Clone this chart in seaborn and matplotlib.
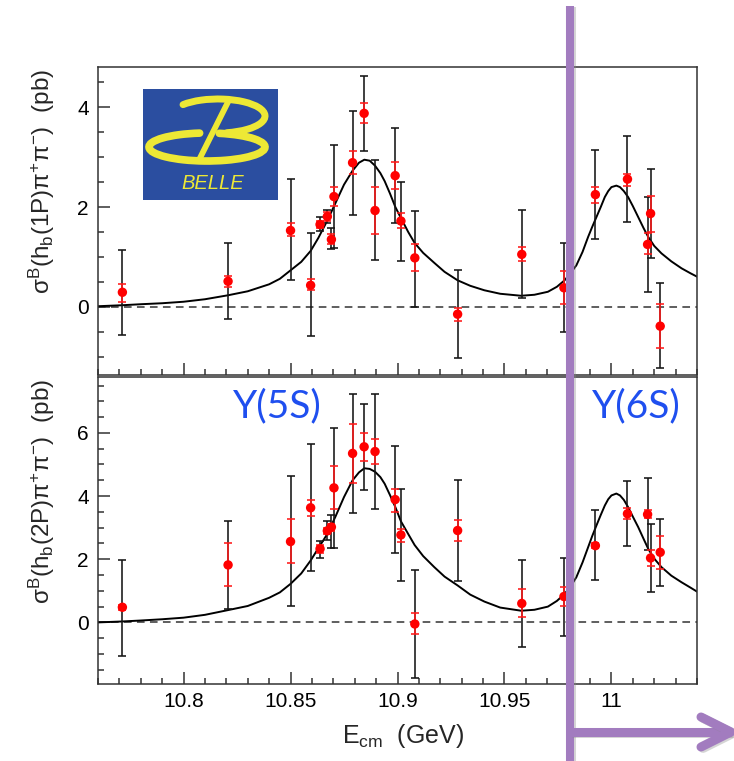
import numpy as np
import pandas as pd
import matplotlib
matplotlib.use("Agg")
import matplotlib.pyplot as plt
import seaborn as sns
from matplotlib.lines import Line2D
from matplotlib.patches import Arc
from matplotlib.ticker import FixedLocator, MultipleLocator
import matplotlib.patheffects as pe

# ---- scan energies (GeV) -------------------------------------------------
energy = [10.7714, 10.8208, 10.8500, 10.8594, 10.8638, 10.8672, 10.8691,
          10.8703, 10.8790, 10.8844, 10.8895, 10.8989, 10.9016, 10.9081,
          10.9281, 10.9581, 10.9778, 10.9925, 11.0075, 11.0169, 11.0183,
          11.0228]

# ---- h_b(1P) pi+ pi- cross section (pb) ----------------------------------
hb1_val = [0.29, 0.51, 1.53, 0.43, 1.65, 1.81, 1.35, 2.21, 2.89, 3.88, 1.93,
           2.63, 1.72, 0.98, -0.15, 1.05, 0.38, 2.25, 2.56, 1.25, 1.87, -0.39]
hb1_tot_lo = [-0.57, -0.25, 0.53, -0.59, 1.52, 1.67, 1.15, 1.17, 1.85, 3.12,
              0.93, 1.67, 0.92, 0.00, -1.03, 0.18, -0.51, 1.35, 1.69, 0.30,
              0.97, -1.22]
hb1_tot_hi = [1.13, 1.27, 2.57, 1.47, 1.80, 1.95, 1.57, 3.25, 3.92, 4.63, 2.95,
              3.59, 2.50, 1.93, 0.73, 1.95, 1.27, 3.15, 3.43, 2.21, 2.76, 0.47]
hb1_stat_lo = [0.10, 0.40, 1.41, 0.33, 1.58, 1.73, 1.25, 2.03, 2.67, 3.69,
               1.45, 2.37, 1.57, 0.71, -0.28, 0.92, 0.05, 2.09, 2.43, 1.05,
               1.49, -0.83]
hb1_stat_hi = [0.45, 0.61, 1.68, 0.55, 1.72, 1.90, 1.45, 2.40, 3.12, 4.08,
               2.41, 2.90, 1.88, 1.25, -0.03, 1.20, 0.71, 2.41, 2.67, 1.47,
               2.23, 0.05]

# ---- h_b(2P) pi+ pi- cross section (pb) ----------------------------------
hb2_val = [0.48, 1.82, 2.56, 3.63, 2.33, 2.90, 3.02, 4.26, 5.35, 5.56, 5.41,
           3.89, 2.77, -0.05, 2.91, 0.60, 0.82, 2.43, 3.44, 3.42, 2.04, 2.22]
hb2_tot_lo = [-1.06, 0.42, 0.51, 1.62, 2.04, 2.62, 2.35, 2.36, 3.46, 4.20,
              3.60, 2.19, 1.32, -1.75, 1.32, -0.77, -0.42, 1.35, 2.41, 2.28,
              0.95, 1.14]
hb2_tot_hi = [1.99, 3.22, 4.64, 5.64, 2.59, 3.20, 3.41, 6.17, 7.22, 6.93,
              7.23, 5.58, 4.21, 1.67, 4.52, 1.99, 2.04, 3.57, 4.48, 4.58,
              3.12, 3.26]
hb2_stat_lo = [0.40, 1.14, 1.87, 3.37, 2.20, 2.80, 2.90, 3.58, 4.42, 5.11,
               5.00, 3.49, 2.54, -0.37, 2.59, 0.18, 0.53, 2.36, 3.26, 3.30,
               1.80, 1.69]
hb2_stat_hi = [0.56, 2.53, 3.28, 3.89, 2.45, 3.00, 3.12, 4.94, 6.27, 6.00,
               5.80, 4.23, 2.96, 0.29, 3.23, 1.06, 1.13, 2.50, 3.62, 3.55,
               2.28, 2.73]

# ---- fitted line shapes --------------------------------------------------
fit_e = [10.760, 10.7714, 10.780, 10.790, 10.800, 10.810, 10.8208, 10.830,
         10.840, 10.845, 10.850, 10.855, 10.8594, 10.863, 10.8672, 10.871,
         10.875, 10.879, 10.882, 10.8845, 10.887, 10.8895, 10.892, 10.894,
         10.8965, 10.899, 10.9016, 10.905, 10.908, 10.912, 10.9172, 10.922,
         10.9281, 10.934, 10.9406, 10.948, 10.9578, 10.964, 10.9703, 10.9745,
         10.9781, 10.981, 10.9836, 10.9865, 10.9891, 10.991, 10.993, 10.995,
         10.9969, 10.9985, 11.0000, 11.0023, 11.0040, 11.0058, 11.0078,
         11.0100, 11.0125, 11.0150, 11.0172, 11.0200, 11.0234, 11.0280,
         11.0328, 11.0370, 11.0406]
fit1_y = [0.01, 0.03, 0.05, 0.07, 0.10, 0.15, 0.23, 0.31, 0.45, 0.56, 0.73,
          0.90, 1.12, 1.38, 1.73, 2.08, 2.45, 2.73, 2.89, 2.95, 2.93, 2.83,
          2.68, 2.52, 2.27, 2.00, 1.78, 1.50, 1.28, 1.08, 0.88, 0.70, 0.53,
          0.42, 0.33, 0.26, 0.22, 0.24, 0.30, 0.40, 0.53, 0.68, 0.83, 1.10,
          1.40, 1.60, 1.80, 2.00, 2.20, 2.32, 2.40, 2.43, 2.40, 2.32, 2.20,
          2.02, 1.80, 1.58, 1.40, 1.22, 1.07, 0.91, 0.77, 0.67, 0.59]
fit2_y = [0.00, 0.03, 0.06, 0.10, 0.15, 0.24, 0.39, 0.52, 0.78, 0.95, 1.22,
          1.55, 1.96, 2.35, 2.80, 3.35, 3.97, 4.50, 4.75, 4.88, 4.86, 4.77,
          4.60, 4.39, 4.03, 3.65, 3.20, 2.80, 2.45, 2.10, 1.75, 1.45, 1.17,
          0.88, 0.66, 0.47, 0.37, 0.40, 0.50, 0.68, 0.90, 1.15, 1.43, 1.90,
          2.38, 2.73, 3.07, 3.40, 3.70, 3.90, 4.02, 4.08, 4.02, 3.88, 3.65,
          3.35, 3.02, 2.65, 2.33, 2.02, 1.75, 1.48, 1.27, 1.10, 0.95]

x_ticks = [10.8, 10.85, 10.9, 10.95, 11.0]
x_tick_labels = ["10.8", "10.85", "10.9", "10.95", "11"]
y1_ticks = [0, 2, 4]
y2_ticks = [0, 2, 4, 6]

W, H = 734, 761
sns.set_theme(style="ticks")
plt.rcParams["font.family"] = ["Liberation Sans", "DejaVu Sans"]
plt.rcParams["mathtext.fontset"] = "custom"
plt.rcParams["mathtext.rm"] = "Liberation Sans"
plt.rcParams["mathtext.it"] = "Liberation Sans:italic"
plt.rcParams["mathtext.default"] = "regular"

fig = plt.figure(figsize=(W / 100, H / 100), dpi=100)
fig.patch.set_facecolor("white")


def fx(px):
    return px / W


def fy(py):
    return 1 - py / H


ax1 = fig.add_axes([fx(98), fy(375), fx(697) - fx(98), fy(67) - fy(375)])
ax2 = fig.add_axes([fx(98), fy(684), fx(697) - fx(98), fy(377) - fy(684)])

spine_col = "#333333"
panels = [
    (ax1, hb1_val, hb1_tot_lo, hb1_tot_hi, hb1_stat_lo, hb1_stat_hi,
     fit1_y, (-1.37, 4.81), y1_ticks),
    (ax2, hb2_val, hb2_tot_lo, hb2_tot_hi, hb2_stat_lo, hb2_stat_hi,
     fit2_y, (-1.95, 7.77), y2_ticks),
]

e = np.array(energy)
for ax, val, tlo, thi, slo, shi, fyv, ylim, yt in panels:
    ax.set_facecolor("white")
    v = np.array(val)
    tot_err = [v - np.array(tlo), np.array(thi) - v]
    stat_err = [v - np.array(slo), np.array(shi) - v]

    ax.axhline(0, color="#333333", lw=1.1, ls=(0, (5, 3.5)), zorder=1)
    fit_df = pd.DataFrame({"E": fit_e, "sigma": fyv})
    sns.lineplot(data=fit_df, x="E", y="sigma", ax=ax, color="black",
                 lw=1.4, estimator=None, sort=False, zorder=2)

    ax.errorbar(e, v, yerr=tot_err, fmt="none", ecolor="#151515",
                elinewidth=1.15, capsize=2.6, capthick=1.15, zorder=3)
    ax.errorbar(e, v, yerr=stat_err, fmt="none", ecolor="#FF1A1A",
                elinewidth=1.15, capsize=2.9, capthick=1.15, zorder=4)
    pts = pd.DataFrame({"E": e, "sigma": v})
    sns.scatterplot(data=pts, x="E", y="sigma", ax=ax, color="#FF0000",
                    s=46, edgecolor="none", linewidth=0, zorder=5)

    ax.set_xlim(10.76, 11.04)
    ax.set_ylim(*ylim)
    ax.xaxis.set_major_locator(FixedLocator(x_ticks))
    ax.xaxis.set_minor_locator(MultipleLocator(0.01))
    ax.yaxis.set_major_locator(FixedLocator(yt))
    ax.yaxis.set_minor_locator(MultipleLocator(0.5))
    ax.tick_params(which="both", direction="in", color=spine_col,
                   width=1.1, top=False, right=False,
                   labelsize=15, labelcolor="black")
    ax.tick_params(which="major", length=8.6)
    ax.tick_params(which="minor", length=4.3)
    ax.tick_params(axis="y", pad=6.5)
    ax.tick_params(axis="x", pad=6)
    ax.set_yticklabels([str(t) for t in yt])
    ax.set_xlabel("")
    ax.set_ylabel("")
    for s in ax.spines.values():
        s.set_color(spine_col)
        s.set_linewidth(1.1)

ax1.set_xticklabels([])
ax2.set_xticklabels(x_tick_labels)

# axis titles
fig.text(fx(42), fy(69), r"$\sigma^{B}(h_{b}(1P)\pi^{+}\pi^{-})$  (pb)",
         rotation=90, ha="center", va="top", fontsize=17.5)
fig.text(fx(42), fy(379), r"$\sigma^{B}(h_{b}(2P)\pi^{+}\pi^{-})$  (pb)",
         rotation=90, ha="center", va="top", fontsize=17.5)
fig.text(fx(403), fy(736), r"E$_{cm}$  (GeV)", ha="center", va="center",
         fontsize=18)

# resonance labels
fig.text(fx(233), fy(417), "Y(5S)", color="#1F4FEF", fontsize=28,
         family="Lato", ha="left", va="baseline")
fig.text(fx(592), fy(417), "Y(6S)", color="#1F4FEF", fontsize=28,
         family="Lato", ha="left", va="baseline")

# Belle logo
logo = fig.add_axes([fx(143), fy(200), fx(278) - fx(143), fy(89) - fy(200)])
logo.set_xlim(0, 135)
logo.set_ylim(0, 111)
logo.set_facecolor("#2B4EA0")
logo.set_xticks([])
logo.set_yticks([])
for s in logo.spines.values():
    s.set_visible(False)
yel = "#EDE835"
logo.add_patch(Arc((64, 53), 116, 28, theta1=118, theta2=48,
                   lw=5.5, color=yel, capstyle="round"))
logo.add_patch(Arc((75, 84), 94, 34, theta1=-62, theta2=162,
                   lw=5.0, color=yel, capstyle="round"))
logo.plot([86, 56], [100, 40], color=yel, lw=4.2, solid_capstyle="butt")
logo.text(69.7, 16.7, "BELLE", color=yel, fontsize=14.5, style="italic",
          ha="center", va="center", family="Liberation Sans")

# threshold marker with arrow
purple = "#A27CBF"
shadow = [pe.SimpleLineShadow(offset=(1.5, -1.0), shadow_color="#888888",
                              alpha=0.35), pe.Normal()]
fig.add_artist(Line2D([fx(570), fx(570)], [fy(6), fy(761)], color=purple,
                      lw=5.8, solid_capstyle="butt", zorder=20,
                      path_effects=shadow))
fig.add_artist(Line2D([fx(570), fx(731)], [fy(732), fy(732)], color=purple,
                      lw=6.5, solid_capstyle="butt", zorder=20,
                      path_effects=shadow))
fig.add_artist(Line2D([fx(701), fx(731), fx(701)],
                      [fy(717), fy(732), fy(747)], color=purple, lw=6.5,
                      solid_capstyle="round", solid_joinstyle="round",
                      zorder=20, path_effects=shadow))

fig.savefig("out.png", dpi=100, facecolor="white")
